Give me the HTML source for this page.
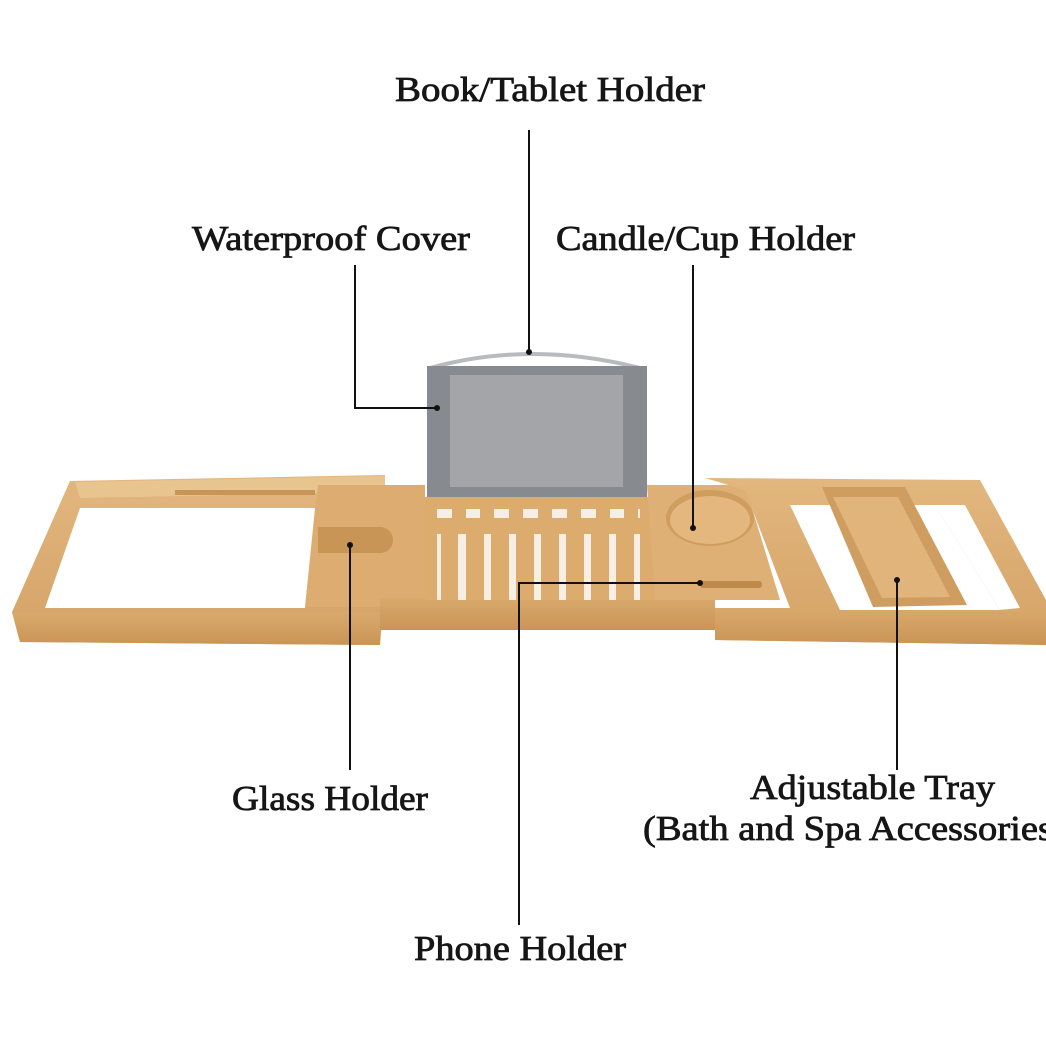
<!DOCTYPE html>
<html><head><meta charset="utf-8"><style>
html,body{margin:0;padding:0;background:#fff;}
svg{display:block;}
text{font-family:"Liberation Serif",serif;font-size:35px;font-weight:normal;fill:#161616;stroke:#161616;stroke-width:0.8;}
</style></head><body>
<svg width="1046" height="1046" viewBox="0 0 1046 1046" xmlns="http://www.w3.org/2000/svg">
<defs>
<linearGradient id="w" x1="0" y1="0" x2="0" y2="1"><stop offset="0" stop-color="#e2b77f"/><stop offset="1" stop-color="#d4a266"/></linearGradient>
<linearGradient id="w2" x1="0" y1="0" x2="0" y2="1"><stop offset="0" stop-color="#d9a96c"/><stop offset="1" stop-color="#c99556"/></linearGradient>
</defs>
<rect width="1046" height="1046" fill="#fff"/>

<path d="M70,481 L385,475 L383,608 L380,645 L20,642 L12,612 Z M80,508 L315,508 L305,608 L45,608 Z" fill="url(#w)" fill-rule="evenodd"/>
<path d="M75,482 L385,476 L385,492 L80,498 Z" fill="#e8c48f"/>
<rect x="175" y="490" width="140" height="5" fill="#c99556"/>
<path d="M12,612 L380,612 L380,645 L20,642 Z" fill="url(#w2)"/>
<path d="M318,485 L425,485 L425,607 L305,607 Z" fill="#dcac70"/>
<path d="M318,527 L380,527 A13,13 0 0 1 380,553 L318,553 Z" fill="#c99556"/>
<path d="M380,598 L715,598 L715,630 L380,630 Z" fill="url(#w2)"/>
<rect x="425" y="497" width="230" height="103" fill="#f7efe4"/>
<g fill="#dcab6e">
<rect x="425" y="497" width="230" height="12"/>
<rect x="425" y="518" width="230" height="16"/>
<rect x="425" y="497" width="12" height="103"/>
<rect x="441" y="534" width="17" height="66"/><rect x="466" y="534" width="18" height="66"/><rect x="491" y="534" width="18" height="66"/><rect x="516" y="534" width="18" height="66"/><rect x="541" y="534" width="18" height="66"/><rect x="566" y="534" width="18" height="66"/><rect x="591" y="534" width="18" height="66"/><rect x="616" y="534" width="18" height="66"/><rect x="640" y="497" width="15" height="103"/>
<rect x="452" y="509" width="14" height="9"/><rect x="480" y="509" width="14" height="9"/><rect x="509" y="509" width="14" height="9"/><rect x="538" y="509" width="14" height="9"/><rect x="567" y="509" width="14" height="9"/><rect x="596" y="509" width="14" height="9"/><rect x="624" y="509" width="14" height="9"/>
</g>
<path d="M647,485 L745,485 L780,600 L655,600 Z" fill="#deb075"/>
<ellipse cx="710" cy="518" rx="44" ry="28" fill="#cf9d5e"/>
<ellipse cx="710" cy="520" rx="40" ry="24" fill="#e3b77e"/>
<rect x="700" y="581" width="62" height="7" rx="3" fill="#c08a4c"/>
<path d="M705,478 L980,480 L1046,600 L1046,645 L715,640 L715,608 L790,608 L745,490 Z M935,505 L965,505 L1020,608 L1000,610 Z" fill="url(#w)" fill-rule="evenodd"/>
<path d="M715,608 L1046,610 L1046,645 L715,640 Z" fill="url(#w2)"/>
<path d="M790,505 L935,505 L1000,610 L840,610 Z" fill="#fff"/>
<path d="M822,487 L905,487 L967,605 L873,607 Z" fill="#cf9d60"/>
<path d="M833,497 L898,497 L950,597 L882,598 Z" fill="#e0b47b"/>
<path d="M430,368 Q530,340 640,368" fill="none" stroke="#b8babd" stroke-width="4"/>
<rect x="427" y="366" width="220" height="131" fill="#878a8f"/>
<rect x="450" y="375" width="173" height="112" fill="#a3a5a9"/>

<g stroke="#111" stroke-width="2" fill="none">
<line x1="529" y1="130" x2="529" y2="352"/>
<polyline points="355,265 355,408 437,408"/>
<line x1="693" y1="265" x2="693" y2="528"/>
<line x1="350" y1="545" x2="350" y2="770"/>
<polyline points="700,583 519,583 519,925"/>
<line x1="897" y1="580" x2="897" y2="770"/>
</g>
<g fill="#111">
<circle cx="529" cy="352" r="3"/><circle cx="437" cy="408" r="3"/><circle cx="693" cy="528" r="3"/><circle cx="350" cy="545" r="3"/><circle cx="700" cy="583" r="3"/><circle cx="897" cy="580" r="3"/>
</g>

<text x="395" y="101" textLength="310" lengthAdjust="spacingAndGlyphs">Book/Tablet Holder</text>
<text x="192" y="250" textLength="278" lengthAdjust="spacingAndGlyphs">Waterproof Cover</text>
<text x="556" y="250" textLength="299" lengthAdjust="spacingAndGlyphs">Candle/Cup Holder</text>
<text x="232" y="810" textLength="196" lengthAdjust="spacingAndGlyphs">Glass Holder</text>
<text x="750" y="799" textLength="245" lengthAdjust="spacingAndGlyphs">Adjustable Tray</text>
<text x="643" y="840" textLength="410" lengthAdjust="spacingAndGlyphs">(Bath and Spa Accessories</text>
<text x="414" y="960" textLength="212" lengthAdjust="spacingAndGlyphs">Phone Holder</text>
</svg>
</body></html>
